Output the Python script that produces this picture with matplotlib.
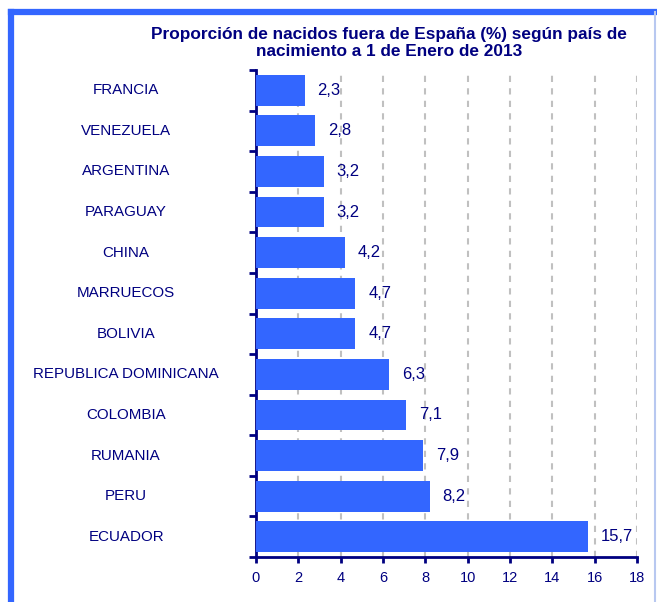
import matplotlib.pyplot as plt
from matplotlib.lines import Line2D
from matplotlib.ticker import FixedLocator

plt.rcParams['font.family'] = ['Liberation Sans', 'DejaVu Sans']

paises = ["FRANCIA", "VENEZUELA", "ARGENTINA", "PARAGUAY", "CHINA", "MARRUECOS",
          "BOLIVIA", "REPUBLICA DOMINICANA", "COLOMBIA", "RUMANIA", "PERU", "ECUADOR"]
valores = [2.3, 2.8, 3.2, 3.2, 4.2, 4.7, 4.7, 6.3, 7.1, 7.9, 8.2, 15.7]
etiquetas = ["2,3", "2,8", "3,2", "3,2", "4,2", "4,7", "4,7", "6,3", "7,1", "7,9", "8,2", "15,7"]

navy = "#000080"
azul = "#3366FF"

fig = plt.figure(figsize=(6.57, 6.02), dpi=100)

# marco azul del grafico (arriba e izquierda gruesos, derecha fina)
x0, y0, x1 = 10.5 / 657, 1 - 11.5 / 602, 655 / 657
fig.add_artist(Line2D([x0, x0], [0, y0], transform=fig.transFigure, color=azul, linewidth=4.5))
fig.add_artist(Line2D([x0, x1], [y0, y0], transform=fig.transFigure, color=azul, linewidth=4.5))
fig.add_artist(Line2D([x1, x1], [0, y0], transform=fig.transFigure, color='#b8c8f0', linewidth=1.5))

ax = fig.add_axes([256/657, 1 - 557/602, 381/657, 487/602])

pos = list(range(len(paises)))[::-1]
ax.barh(pos, valores, height=0.76, color=azul, zorder=3)

for p, v, t in zip(pos, valores, etiquetas):
    ax.text(v + 0.6, p, t, va='center', ha='left', fontsize=12, color=navy)

ax.set_xlim(0, 18)
ax.set_ylim(-0.5, len(paises) - 0.5)
ax.set_xticks(range(0, 19, 2))
ax.tick_params(axis='x', colors=navy, labelsize=10.5, length=4, width=2, pad=6)

ax.yaxis.set_major_locator(FixedLocator([i - 0.5 for i in range(len(paises) + 1)]))
ax.set_yticklabels([])
ax.tick_params(axis='y', colors=navy, length=5, width=2)

for p, nombre in zip(pos, paises):
    ax.text(-0.341, p, nombre, transform=ax.get_yaxis_transform(), ha='center',
            va='center', fontsize=10.9, color=navy)

ax.grid(axis='x', linestyle=(0, (3, 3)), color='#c0c0c0', linewidth=1.5, zorder=0)
ax.grid(axis='y', visible=False)

for lado in ['top', 'right']:
    ax.spines[lado].set_visible(False)
for lado in ['left', 'bottom']:
    ax.spines[lado].set_color(navy)
    ax.spines[lado].set_linewidth(2)

fig.text(389/657, 1 - 43/602, "Proporción de nacidos fuera de España (%) según país de\nnacimiento a 1 de Enero de 2013",
         ha='center', va='center', fontsize=12.4, fontweight='bold', color=navy, linespacing=1.15)

fig.savefig("out.png", dpi=100)
